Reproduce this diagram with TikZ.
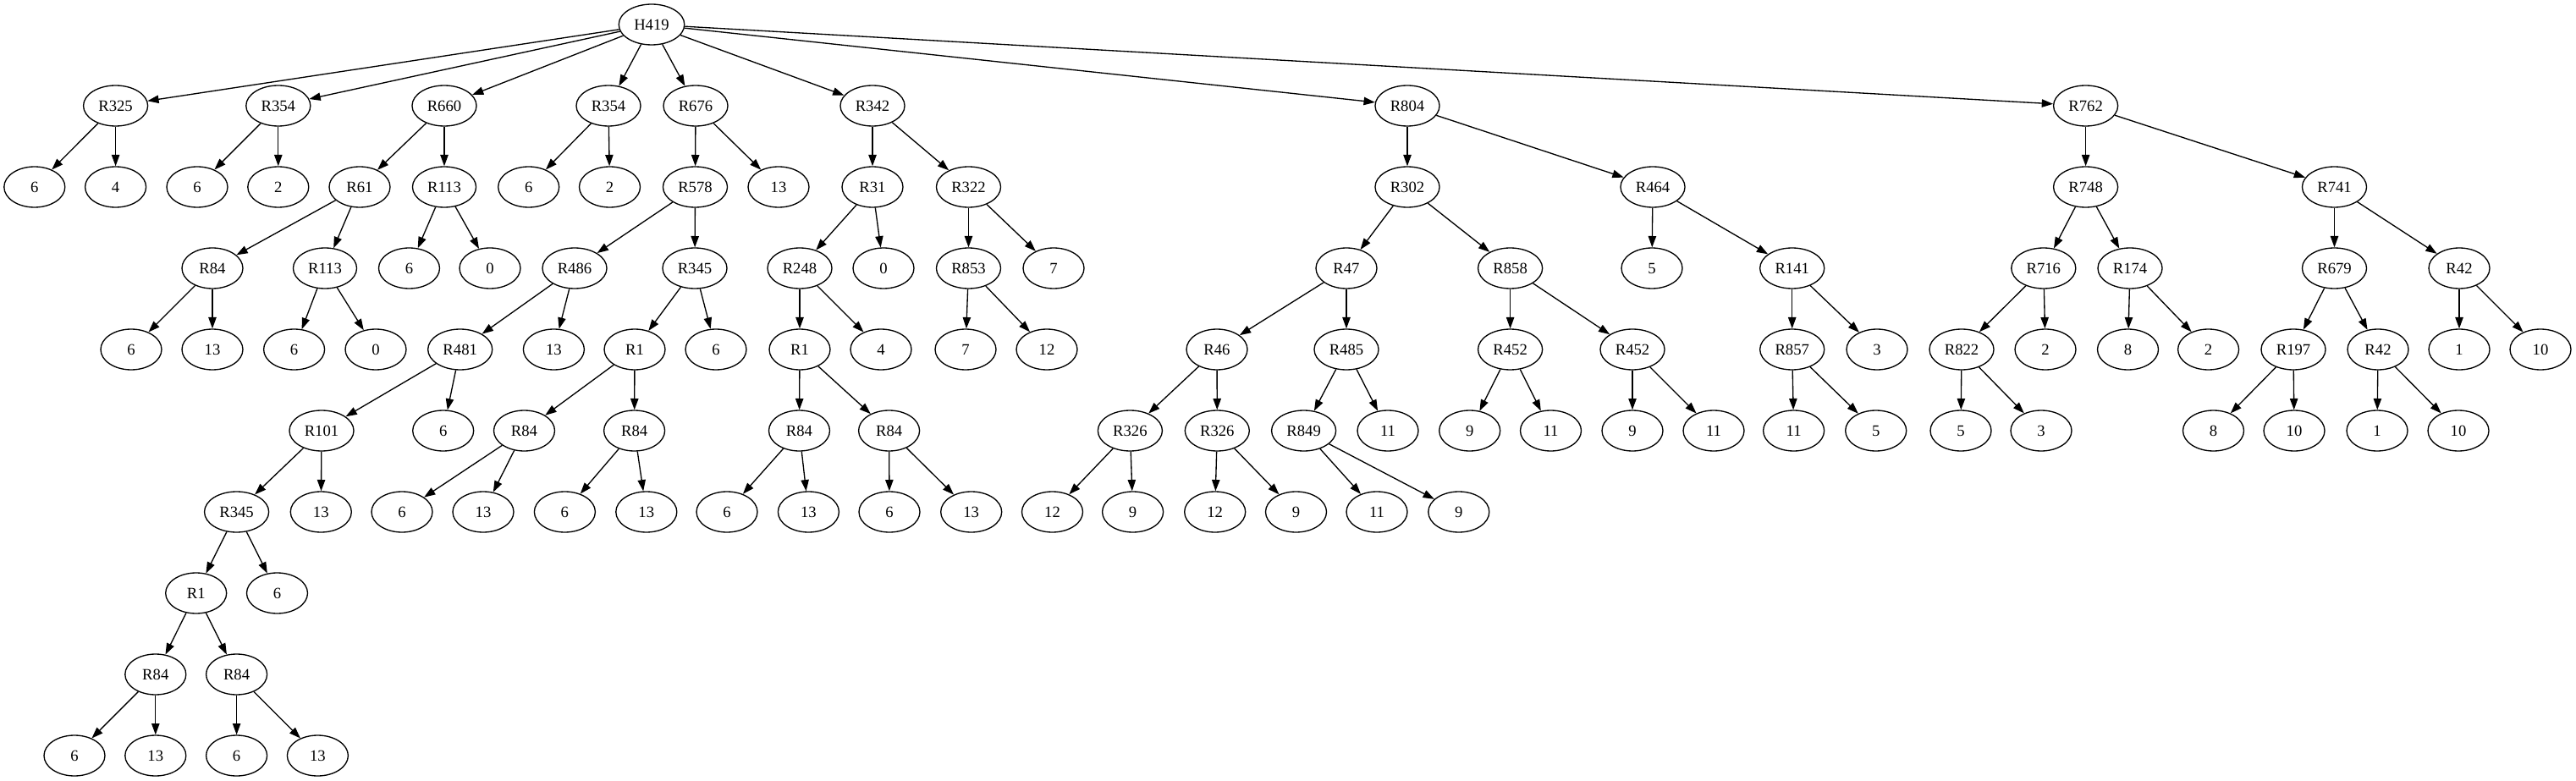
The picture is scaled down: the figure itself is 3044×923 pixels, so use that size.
\documentclass[tikz,border=0pt]{standalone}
\usepackage{fontspec}
\setmainfont{Liberation Serif}
\usetikzlibrary{shapes.geometric,arrows.meta}
\begin{document}
\begin{tikzpicture}[x=0.75pt,y=-0.75pt,
  nd/.style={draw,ellipse,line width=1pt,minimum width=54pt,minimum height=36pt,inner xsep=5pt,inner ysep=2pt,font=\fontsize{14pt}{16pt}\selectfont},
  edge/.style={line width=1pt,-{Triangle[length=10pt,width=7pt]}}]
\useasboundingbox[fill=white] (0,0) rectangle (3044,923);
% level 0
\node[nd] (root) at (770,29) {H419};
% level 1
\foreach \n/\x/\t in {a1/136.6/R325,a2/328.8/R354,a3/525/R660,a4/719/R354,a5/822/R676,a6/1031/R342,a7/1663/R804,a8/2464.6/R762}
  \node[nd] (\n) at (\x,125) {\t};
% level 2
\foreach \n/\x/\t in {b1/40.8/6,b2/136.6/4,b3/233/6,b4/328.8/2,b5/425/R61,b6/525/R113,b7/624.7/6,b8/720.5/2,b9/821.5/R578,b10/920/13,b11/1031/R31,b12/1144.5/R322,b13/1663/R302,b14/1953/R464,b15/2464.6/R748,b16/2758.5/R741}
  \node[nd] (\n) at (\x,221) {\t};
% level 3
\foreach \n/\x/\t in {c1/251/R84,c2/384/R113,c3/483.5/6,c4/579/0,c5/679/R486,c6/821/R345,c7/945/R248,c8/1044/0,c9/1144.5/R853,c10/1245/7,c11/1591/R47,c12/1784.6/R858,c13/1952/5,c14/2117.7/R141,c15/2414.8/R716,c16/2517/R174,c17/2758.5/R679,c18/2906/R42}
  \node[nd] (\n) at (\x,317) {\t};
% level 4
\foreach \n/\x/\t in {d1/155/6,d2/251/13,d3/347.6/6,d4/444/0,d5/543.7/R481,d6/654.4/13,d7/750/R1,d8/846/6,d9/945/R1,d10/1041/4,d11/1141/7,d12/1237/12,d13/1438/R46,d14/1591/R485,d15/1784.6/R452,d16/1929/R452,d17/2117.7/R857,d18/2218/3,d19/2318/R822,d20/2417/2,d21/2514.5/8,d22/2609.6/2,d23/2710/R197,d24/2810/R42,d25/2906/1,d26/3002/10}
  \node[nd] (\n) at (\x,413) {\t};
% level 5
\foreach \n/\x/\t in {e1/380/R101,e2/523.7/6,e3/619.5/R84,e4/749.6/R84,e5/944.5/R84,e6/1050.6/R84,e7/1335.4/R326,e8/1438.3/R326,e9/1540.6/R849,e10/1640/11,e11/1736.7/9,e12/1832.5/11,e13/1929/9,e14/2025/11,e15/2119.6/11,e16/2216.7/5,e17/2317/5,e18/2412/3,e19/2615.5/8,e20/2711/10,e21/2809/1,e22/2905/10}
  \node[nd] (\n) at (\x,509) {\t};
% level 6
\foreach \n/\x/\t in {f1/279.6/R345,f2/379.3/13,f3/475/6,f4/571/13,f5/667.4/6,f6/763.8/13,f7/859/6,f8/955.4/13,f9/1051/6,f10/1147.7/13,f11/1243.5/12,f12/1338.6/9,f13/1435.7/12,f14/1531.5/9,f15/1627/11,f16/1723.8/9}
  \node[nd] (\n) at (\x,605) {\t};
% level 7-9
\node[nd] (g1) at (231.7,701) {R1};
\node[nd] (g2) at (327.5,701) {6};
\node[nd] (h1) at (183.8,797) {R84};
\node[nd] (h2) at (279.6,797) {R84};
\node[nd] (i1) at (88,893) {6};
\node[nd] (i2) at (183.8,893) {13};
\node[nd] (i3) at (279.6,893) {6};
\node[nd] (i4) at (375.4,893) {13};
% edges
\foreach \p/\c in {root/a1,root/a2,root/a3,root/a4,root/a5,root/a6,root/a7,root/a8,
  a1/b1,a1/b2,a2/b3,a2/b4,a3/b5,a3/b6,a4/b7,a4/b8,a5/b9,a5/b10,a6/b11,a6/b12,a7/b13,a7/b14,a8/b15,a8/b16,
  b5/c1,b5/c2,b6/c3,b6/c4,b9/c5,b9/c6,b11/c7,b11/c8,b12/c9,b12/c10,b13/c11,b13/c12,b14/c13,b14/c14,b15/c15,b15/c16,b16/c17,b16/c18,
  c1/d1,c1/d2,c2/d3,c2/d4,c5/d5,c5/d6,c6/d7,c6/d8,c7/d9,c7/d10,c9/d11,c9/d12,c11/d13,c11/d14,c12/d15,c12/d16,c14/d17,c14/d18,c15/d19,c15/d20,c16/d21,c16/d22,c17/d23,c17/d24,c18/d25,c18/d26,
  d5/e1,d5/e2,d7/e3,d7/e4,d9/e5,d9/e6,d13/e7,d13/e8,d14/e9,d14/e10,d15/e11,d15/e12,d16/e13,d16/e14,d17/e15,d17/e16,d19/e17,d19/e18,d23/e19,d23/e20,d24/e21,d24/e22,
  e1/f1,e1/f2,e3/f3,e3/f4,e4/f5,e4/f6,e5/f7,e5/f8,e6/f9,e6/f10,e7/f11,e7/f12,e8/f13,e8/f14,e9/f15,e9/f16,
  f1/g1,f1/g2,g1/h1,g1/h2,h1/i1,h1/i2,h2/i3,h2/i4}
  \draw[edge] (\p) -- (\c);
\end{tikzpicture}
\end{document}
